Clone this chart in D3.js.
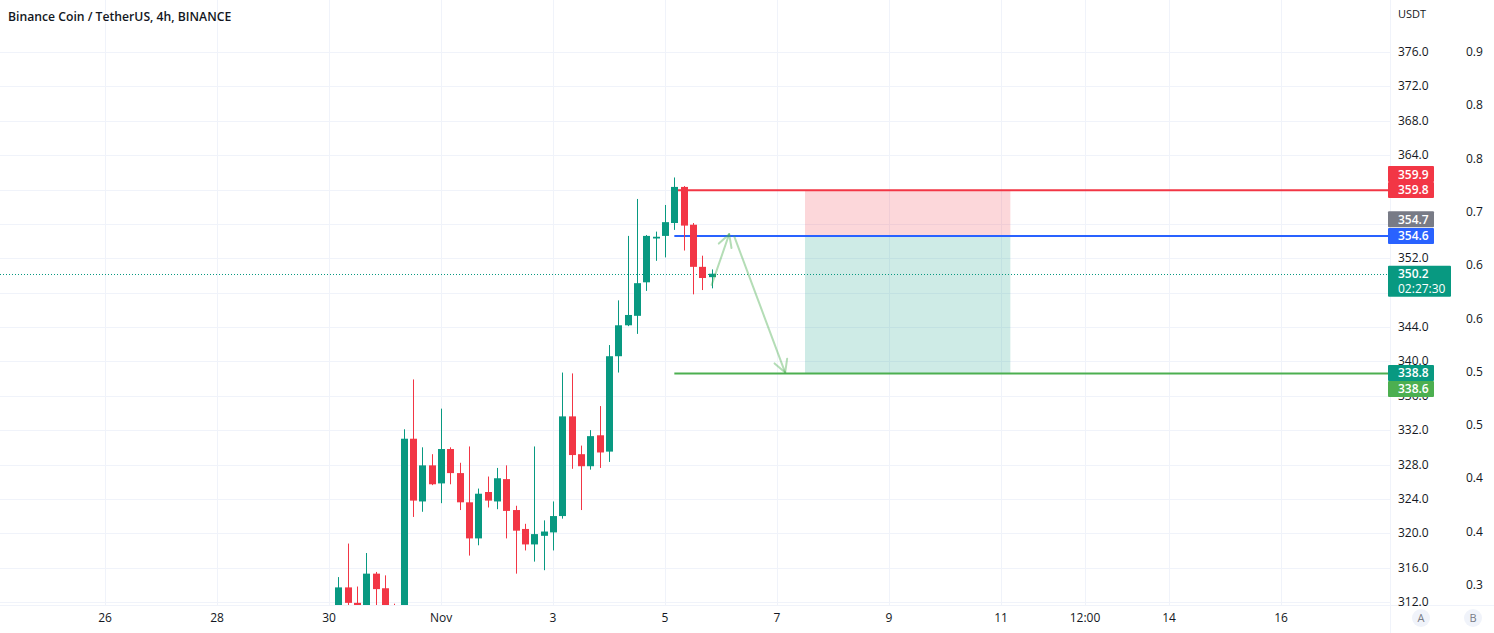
<!DOCTYPE html>
<html><head><meta charset="utf-8">
<script src="https://cdn.jsdelivr.net/npm/d3@7"></script>
<style>
html,body{margin:0;padding:0;background:#fff;}
svg{display:block;font-family:"Open Sans","Noto Sans",sans-serif;}
</style></head>
<body>
<svg id="chart" width="1494" height="633"></svg>
<script>
// ---------------- DATA ----------------
const title = "Binance Coin / TetherUS, 4h, BINANCE";
const currency = "USDT";
const firstCandle = "2021-10-30T04:00:00Z";
const candleOpen  = [311.5,313.7,311.9,311.6,315.3,313.6,311.0,309.5,331.0,323.7,327.9,325.8,329.8,327.0,323.6,319.4,324.8,323.7,326.3,322.7,320.5,318.7,319.7,320.1,322.0,333.6,329.2,327.8,331.4,329.5,340.6,344.2,345.3,349.2,354.3,354.6,356.1,360.3,355.9,351.0,349.8];
const candleHigh  = [314.9,318.8,313.8,317.7,315.5,315.1,311.8,332.1,337.9,330.0,329.2,334.5,330.0,328.2,330.1,325.2,326.6,327.6,327.9,323.2,321.1,330.1,321.5,323.7,338.7,338.6,330.2,332.0,334.8,341.9,347.1,354.6,358.9,354.7,355.1,358.2,361.4,360.4,356.1,352.3,350.7];
const candleLow   = [311.0,311.5,311.2,311.2,311.5,310.8,309.0,309.0,321.9,322.5,325.6,323.5,325.7,322.7,317.4,318.6,323.0,322.8,319.4,315.3,318.0,316.7,315.7,318.0,321.7,327.5,322.7,327.4,327.6,328.3,338.7,344.1,343.2,348.2,351.7,352.1,355.3,352.9,347.8,348.3,348.5];
const candleClose = [313.7,311.9,311.6,315.3,313.5,311.4,309.5,331.0,323.8,327.9,325.7,329.8,327.0,323.6,319.4,324.6,323.8,326.4,322.6,320.3,318.7,319.9,320.2,322.0,333.6,329.1,327.8,331.3,329.4,340.6,344.2,345.4,349.1,354.6,354.5,356.2,360.3,355.8,351.0,349.7,350.2];

const priceTicks = [312,316,320,324,328,332,336,340,344,348,352,356,360,364,368,372,376];
const hiddenPriceTicks = [348,356,360]; // fully covered by labels
const timeTickDates  = ["2021-10-26","2021-10-28","2021-10-30","2021-11-01","2021-11-03","2021-11-05","2021-11-07","2021-11-09","2021-11-11","2021-11-12T12:00","2021-11-14","2021-11-16"];
const timeTickLabels = ["26","28","30","Nov","3","5","7","9","11","12:00","14","16"];
const bTickLabels = ["0.9","0.8","0.8","0.7","0.6","0.6","0.5","0.5","0.4","0.4","0.3"];

// drawing levels
const stopPrice = 359.9, entryPrice = 354.6, targetPrice = 338.6, lastPrice = 350.2;
const levelStart = "2021-11-05T04:00:00Z";
const posStart = "2021-11-07T12:00:00Z", posEnd = "2021-11-11T04:00:00Z";
const arrowTimes  = ["2021-11-05T20:00:00Z","2021-11-06T03:30:00Z","2021-11-07T03:30:00Z"];
const arrowPrices = [348.9, 354.8, 338.7];
const priceBoxes = [
  {text:"359.9", price:361.8, color:"#f23645"},
  {text:"359.8", price:359.95, color:"#f23645"},
  {text:"354.7", price:356.55, color:"#787b86"},
  {text:"354.6", price:354.6, color:"#2962ff"},
  {text:"338.8", price:338.65, color:"#089981"},
  {text:"338.6", price:336.8, color:"#4caf50"}
];
const countdown = "02:27:30";

// ---------------- LAYOUT ----------------
const W = 1494, H = 633;
const plotRight = 1390, plotBottom = 605;
const UP = "#089981", DOWN = "#f23645";
const svg = d3.select("#chart");
svg.append("rect").attr("width",W).attr("height",H).attr("fill","#fff");

const parse = s => new Date(s.length === 10 ? s + "T00:00:00Z" : (s.endsWith("Z") ? s : s + ":00Z"));
const x = d3.scaleUtc().domain([parse("2021-10-26"), parse("2021-11-16")]).range([105, 1281]);
const y = d3.scaleLinear().domain([312, 376]).range([602, 52]);

const t0 = new Date(firstCandle);
const candles = candleOpen.map((o,i)=>({
  t: d3.utcHour.offset(t0, 4*i), o, h:candleHigh[i], l:candleLow[i], c:candleClose[i]
}));

// clip
svg.append("clipPath").attr("id","plot").append("rect")
  .attr("x",0).attr("y",0).attr("width",plotRight).attr("height",plotBottom);
const plot = svg.append("g").attr("clip-path","url(#plot)");

// grid
plot.append("g").selectAll("line").data(priceTicks).join("line")
  .attr("x1",0).attr("x2",plotRight)
  .attr("y1",d=>Math.round(y(d))+0.5).attr("y2",d=>Math.round(y(d))+0.5)
  .attr("stroke","#f0f3fa").attr("stroke-width",1);
plot.append("g").selectAll("line").data(timeTickDates).join("line")
  .attr("x1",d=>Math.round(x(parse(d)))+0.5).attr("x2",d=>Math.round(x(parse(d)))+0.5)
  .attr("y1",0).attr("y2",plotBottom)
  .attr("stroke","#f0f3fa").attr("stroke-width",1);

// position tool
const px0 = x(new Date(posStart)), px1 = x(new Date(posEnd));
plot.append("rect").attr("x",px0).attr("width",px1-px0)
  .attr("y",y(stopPrice)).attr("height",y(entryPrice)-y(stopPrice))
  .attr("fill","rgba(242,54,69,0.2)");
plot.append("rect").attr("x",px0).attr("width",px1-px0)
  .attr("y",y(entryPrice)).attr("height",y(targetPrice)-y(entryPrice))
  .attr("fill","rgba(8,153,129,0.2)");

// last price dotted line
plot.append("line").attr("x1",0).attr("x2",plotRight)
  .attr("y1",Math.round(y(lastPrice))+0.5).attr("y2",Math.round(y(lastPrice))+0.5)
  .attr("stroke",UP).attr("stroke-width",1).attr("stroke-dasharray","1,2");

// horizontal levels
const lx = x(new Date(levelStart));
[[stopPrice,"#f23645"],[entryPrice,"#2962ff"],[targetPrice,"#4caf50"]].forEach(([p,c])=>{
  plot.append("line").attr("x1",lx).attr("x2",plotRight)
    .attr("y1",y(p)).attr("y2",y(p)).attr("stroke",c).attr("stroke-width",2);
});

// candles
const bw = 7;
const cg = plot.append("g");
cg.selectAll("line").data(candles).join("line")
  .attr("x1",d=>Math.round(x(d.t))+0.5).attr("x2",d=>Math.round(x(d.t))+0.5)
  .attr("y1",d=>y(d.h)).attr("y2",d=>y(d.l))
  .attr("stroke",d=>d.c>=d.o?UP:DOWN).attr("stroke-width",1);
cg.selectAll("rect").data(candles).join("rect")
  .attr("x",d=>Math.round(x(d.t))+0.5-bw/2)
  .attr("width",bw)
  .attr("y",d=>y(Math.max(d.o,d.c)))
  .attr("height",d=>Math.max(1,Math.abs(y(d.o)-y(d.c))))
  .attr("fill",d=>d.c>=d.o?UP:DOWN);

// arrows
const arrowColor = "rgba(76,175,80,0.42)";
const ap = arrowTimes.map((t,i)=>[x(new Date(t)), y(arrowPrices[i])]);
function arrow(a,b){
  plot.append("line").attr("x1",a[0]).attr("y1",a[1]).attr("x2",b[0]).attr("y2",b[1])
    .attr("stroke",arrowColor).attr("stroke-width",2).attr("stroke-linecap","round");
  const ang = Math.atan2(b[1]-a[1], b[0]-a[0]);
  const len = 14, spread = 0.5;
  [ang+Math.PI-spread, ang+Math.PI+spread].forEach(g=>{
    plot.append("line").attr("x1",b[0]).attr("y1",b[1])
      .attr("x2",b[0]+len*Math.cos(g)).attr("y2",b[1]+len*Math.sin(g))
      .attr("stroke",arrowColor).attr("stroke-width",2).attr("stroke-linecap","round");
  });
}
arrow(ap[0], ap[1]);
arrow([ap[1][0]+5, ap[1][1]+2], ap[2]);

// borders
svg.append("line").attr("x1",0).attr("x2",W).attr("y1",plotBottom+0.5).attr("y2",plotBottom+0.5).attr("stroke","#f0f3fa");
svg.append("line").attr("x1",plotRight+0.5).attr("x2",plotRight+0.5).attr("y1",0).attr("y2",H).attr("stroke","#f0f3fa");

// title
svg.append("text").attr("x",8).attr("y",20.5).text(title)
  .attr("font-size",12.2).attr("font-weight",600).attr("fill","#131722");

// price axis
svg.append("text").attr("x",1398).attr("y",18).text(currency)
  .attr("font-size",11).attr("fill","#131722");
svg.append("g").selectAll("text").data(priceTicks.filter(p=>!hiddenPriceTicks.includes(p))).join("text")
  .attr("x",1398).attr("y",d=>y(d)+4).text(d=>d3.format(".1f")(d))
  .attr("font-size",12).attr("fill","#131722");

// right-most scale B
const yb = d3.scaleLinear().domain([0, bTickLabels.length-1]).range([52, 585]);
svg.append("g").selectAll("text").data(bTickLabels).join("text")
  .attr("x",1466).attr("y",(d,i)=>yb(i)+4).text(d=>d)
  .attr("font-size",12).attr("fill","#131722");

// time axis
svg.append("g").selectAll("text").data(timeTickDates).join("text")
  .attr("x",d=>x(parse(d))).attr("y",622).attr("text-anchor","middle")
  .text((d,i)=>timeTickLabels[i]).attr("font-size",12).attr("fill","#131722");

// price boxes
priceBoxes.forEach(b=>{
  const cy = y(b.price);
  svg.append("rect").attr("x",1388).attr("y",cy-8).attr("width",46).attr("height",16)
    .attr("rx",1).attr("fill",b.color);
  svg.append("text").attr("x",1398).attr("y",cy+4.5).text(b.text)
    .attr("font-size",12).attr("font-weight",600).attr("fill","#fff");
});
// last price box
const ly = y(lastPrice);
svg.append("rect").attr("x",1388).attr("y",ly-8).attr("width",63).attr("height",31).attr("rx",1).attr("fill",UP);
svg.append("text").attr("x",1398).attr("y",ly+4.5).text(d3.format(".1f")(lastPrice))
  .attr("font-size",12).attr("font-weight",600).attr("fill","#fff");
svg.append("text").attr("x",1398).attr("y",ly+19).text(countdown)
  .attr("font-size",12).attr("fill","#fff");

// A / B buttons
[["A",1421],["B",1473]].forEach(([t,cx])=>{
  svg.append("circle").attr("cx",cx).attr("cy",618).attr("r",9).attr("fill","#f0f3fa");
  svg.append("text").attr("x",cx).attr("y",622).attr("text-anchor","middle").text(t)
    .attr("font-size",11).attr("fill","#787b86");
});
</script>
</body></html>
